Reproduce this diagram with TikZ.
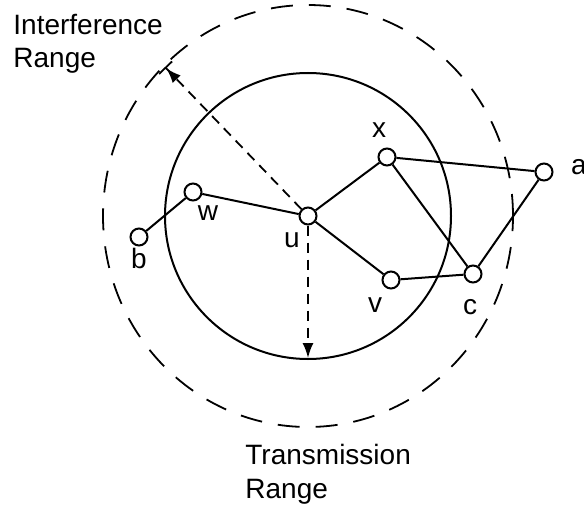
\documentclass[tikz,border=0pt]{standalone}
\usepackage{fontspec}
\setmainfont{Liberation Sans}
\usetikzlibrary{arrows.meta,positioning,calc}

\begin{document}
\begin{tikzpicture}[
    x=0.5pt, y=0.5pt,
    station/.style={circle, draw, line width=1pt, fill=white, inner sep=0pt, minimum size=8.5pt},
    link/.style={line width=1pt},
    lbl/.style={font=\fontsize{14}{17}\selectfont, inner sep=0pt},
    rangearrow/.style={line width=0.9pt, dash pattern=on 5pt off 3.5pt}
]
    \useasboundingbox (0,0) rectangle (584,510);

    % Ranges around u
    \coordinate (centre) at (308,294);
    \draw[link] (centre) circle [radius=143];
    \draw[line width=0.9pt, dash pattern=on 11pt off 8pt] (centre) ellipse [x radius=205, y radius=211];

    % Stations
    \node[station] (u) at (308,294) {};
    \node[station] (x) at (387,353) {};
    \node[station] (a) at (544,338) {};
    \node[station] (v) at (391,230) {};
    \node[station] (c) at (473,236) {};
    \node[station] (w) at (193,318) {};
    \node[station] (b) at (139,273) {};

    % Station labels
    \node[lbl] (xlbl) at (379,380) {x};
    \node[lbl] (albl) at (579,343) {a};
    \node[lbl] (ulbl) at (292,270) {u};
    \node[lbl] (vlbl) at (375,205) {v};
    \node[lbl] (clbl) at (470,203) {c};
    \node[lbl] (wlbl) at (208,297) {w};
    \node[lbl] (blbl) at (139,252) {b};

    % Links
    \draw[link] (b) -- (w);
    \draw[link] (w) -- (u);
    \draw[link] (u) -- (x);
    \draw[link] (u) -- (v);
    \draw[link] (x) -- (a);
    \draw[link] (x) -- (c);
    \draw[link] (v) -- (c);
    \draw[link] (c) -- (a);

    % Range arrows
    \coordinate (irtip) at (165,443);
    \coordinate (trtip) at (308,152);
    \draw[rangearrow, -{Latex[length=7.5pt,width=5.5pt]Bar[width=9pt,line width=0.9pt]}] (u) -- (irtip);
    \draw[rangearrow, -{Latex[length=7.5pt,width=5.5pt]}] (u) -- (trtip);

    % Range captions
    \node[lbl, anchor=base west, align=left] (irange) at (13,442) {Interference\\Range};
    \node[lbl, anchor=base west, align=left] (trange) at (245,12) {Transmission\\Range};
\end{tikzpicture}
\end{document}
